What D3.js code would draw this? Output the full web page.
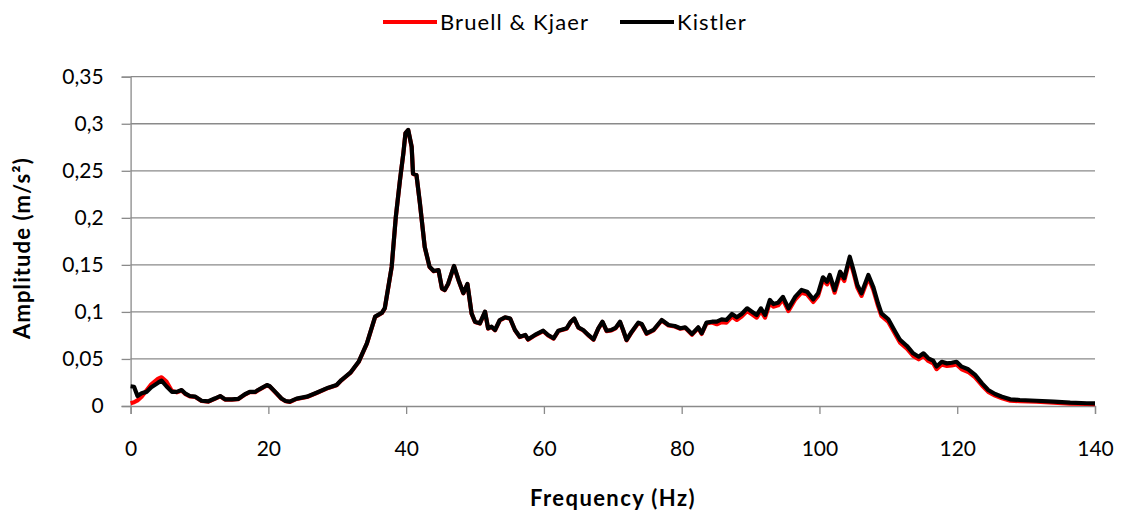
<!DOCTYPE html>
<html><head><meta charset="utf-8">
<script src="https://cdn.jsdelivr.net/npm/d3@7"></script>
<style>
html,body{margin:0;padding:0;background:#fff;}
svg{display:block;font-family:Lato,"Open Sans",sans-serif;}
</style></head>
<body><svg id="chart" width="1121" height="516"></svg>
<script>
const freq = [0,0.5,1.0,1.6,2.3,3.0,4.0,4.5,5.2,6.0,6.7,7.4,7.9,8.6,9.4,10.3,11.3,12.3,13.0,13.7,14.7,15.6,16.6,17.3,18.1,18.5,19.0,19.8,20.2,21.0,21.9,22.5,23.1,24.1,25.6,27.0,28.7,29.9,30.6,31.9,33.1,34.3,35.5,36.5,36.9,37.9,38.5,39.1,39.6,39.9,40.3,40.8,41.0,41.5,42.0,42.7,43.4,44.0,44.7,45.2,45.6,46.1,46.95,47.6,48.3,48.9,49.5,50.0,50.7,51.45,51.9,52.4,52.9,53.6,54.35,55.1,55.8,56.5,57.3,57.7,58.7,59.9,60.6,61.4,62.1,63.3,63.9,64.4,65.0,65.7,66.45,67.2,67.9,68.5,69.1,69.8,70.4,71.05,71.5,72.0,72.75,73.7,74.2,74.9,75.9,77.1,78.1,79.0,79.8,80.5,81.5,82.4,82.9,83.6,84.4,85.1,85.8,86.5,87.3,88.0,88.7,89.5,90.2,90.9,91.5,92.1,92.8,93.3,94.0,94.7,95.5,96.5,97.4,98.2,99.1,99.8,100.5,101.1,101.5,102.2,103.0,103.6,104.4,105.0,105.5,106.1,107.1,107.8,108.5,109.0,110.0,111.0,111.7,112.7,113.6,114.4,115.1,115.8,116.5,117.0,117.75,118.5,119.2,119.9,120.65,121.6,122.6,123.6,124.5,125.5,126.5,127.7,129.1,131.5,134.0,136.4,138.8,140];

const kistler = [0.021,0.0205,0.0106,0.0135,0.015,0.020,0.0248,0.027,0.021,0.015,0.015,0.017,0.0135,0.0106,0.0099,0.0056,0.005,0.0082,0.0106,0.0071,0.0071,0.0075,0.0125,0.015,0.015,0.017,0.019,0.0223,0.021,0.015,0.008,0.0053,0.0046,0.0078,0.0099,0.0141,0.0195,0.0223,0.0276,0.0354,0.047,0.0666,0.095,0.0992,0.104,0.148,0.201,0.240,0.269,0.29,0.2934,0.2756,0.247,0.2455,0.2155,0.169,0.148,0.1435,0.1445,0.125,0.1233,0.130,0.1488,0.134,0.12,0.1297,0.0985,0.0896,0.0879,0.1002,0.0826,0.0843,0.0808,0.0914,0.0943,0.093,0.0808,0.0737,0.0755,0.0709,0.0755,0.080,0.0755,0.072,0.080,0.0826,0.0896,0.093,0.0836,0.0808,0.0755,0.0709,0.0826,0.0896,0.080,0.0808,0.083,0.0896,0.0808,0.0702,0.079,0.0886,0.0872,0.0773,0.0808,0.0914,0.0861,0.085,0.0826,0.0836,0.0765,0.0836,0.0773,0.0886,0.0896,0.0896,0.092,0.0914,0.0978,0.0943,0.0978,0.1038,0.1002,0.0967,0.1038,0.0967,0.1127,0.1084,0.1098,0.116,0.1038,0.1162,0.1233,0.1215,0.1134,0.1198,0.1368,0.1321,0.1392,0.1233,0.1428,0.1357,0.1587,0.1428,0.1286,0.1198,0.1392,0.1268,0.1092,0.0985,0.0922,0.079,0.0702,0.0638,0.056,0.0524,0.056,0.0507,0.0482,0.042,0.047,0.0453,0.046,0.047,0.0418,0.039,0.033,0.0241,0.017,0.0128,0.0099,0.0071,0.0064,0.0056,0.0046,0.0035,0.0029,0.0028];

const bruell = [0.003,0.004,0.006,0.010,0.0165,0.023,0.029,0.0305,0.026,0.016,0.0145,0.0165,0.013,0.0103,0.0096,0.0053,0.0047,0.0079,0.0103,0.0068,0.0068,0.0072,0.0122,0.0147,0.0147,0.0167,0.0187,0.022,0.0207,0.0147,0.0077,0.005,0.0043,0.0075,0.0096,0.0138,0.0192,0.022,0.0273,0.0351,0.0467,0.0663,0.0947,0.0989,0.1037,0.1477,0.2007,0.2397,0.2687,0.2897,0.2931,0.2753,0.2467,0.2452,0.2152,0.1687,0.1477,0.1432,0.1442,0.1247,0.123,0.1297,0.1485,0.1337,0.1197,0.1294,0.0982,0.0893,0.0876,0.0999,0.0823,0.084,0.0805,0.0911,0.094,0.0927,0.0805,0.0733,0.0751,0.0705,0.0751,0.0796,0.0751,0.0716,0.0796,0.0822,0.0892,0.0926,0.0832,0.0804,0.0751,0.0705,0.0822,0.0892,0.0796,0.0803,0.0825,0.0891,0.0803,0.0697,0.0785,0.0881,0.0867,0.0768,0.0803,0.0909,0.0856,0.0845,0.0821,0.0831,0.0758,0.0829,0.0766,0.0878,0.0887,0.0869,0.0892,0.0886,0.095,0.0915,0.095,0.101,0.0974,0.0939,0.101,0.0939,0.1099,0.1056,0.107,0.1132,0.101,0.1134,0.1205,0.1187,0.1106,0.117,0.134,0.1293,0.1364,0.1205,0.14,0.1329,0.1559,0.14,0.1258,0.117,0.1364,0.124,0.1064,0.0957,0.0894,0.0762,0.0674,0.061,0.0532,0.0496,0.0532,0.0479,0.0454,0.0392,0.0442,0.0425,0.0432,0.0442,0.039,0.0362,0.0305,0.0218,0.015,0.011,0.0082,0.0056,0.0051,0.0045,0.0036,0.0026,0.0021,0.002];

const xTicks = [0,20,40,60,80,100,120,140];
const yTicks = [0,0.05,0.1,0.15,0.2,0.25,0.3,0.35];
const seriesNames = ["Bruell & Kjaer","Kistler"];
const seriesColors = ["#ff0000","#000000"];

const svg = d3.select("#chart");
const x = d3.scaleLinear().domain([0,140]).range([130.6,1095]);
const y = d3.scaleLinear().domain([0,0.35]).range([406,76.7]);
const gridColor = "#8a8a8a";
const fmt = v => String(+v.toFixed(2)).replace(".", ",");

// gridlines
svg.append("g").selectAll("line").data(yTicks.slice(1)).join("line")
  .attr("x1", x(0)).attr("x2", x(140))
  .attr("y1", d => y(d)).attr("y2", d => y(d))
  .attr("stroke", gridColor).attr("stroke-width", 1.3);

// y axis
const yAxis = svg.append("g").attr("transform", `translate(${x(0)},0)`)
  .call(d3.axisLeft(y).tickValues(yTicks).tickFormat(fmt).tickSize(9).tickPadding(18));
yAxis.select(".domain").attr("stroke", gridColor).attr("stroke-width", 1.3);
yAxis.selectAll(".tick line").attr("stroke", gridColor).attr("stroke-width", 1.3);
yAxis.selectAll("text").attr("font-size", 21).attr("fill", "#000").attr("font-family","Lato");

// x axis
const xAxis = svg.append("g").attr("transform", `translate(0,${y(0)})`)
  .call(d3.axisBottom(x).tickValues(xTicks).tickFormat(d => d).tickSize(8).tickPadding(27));
xAxis.select(".domain").attr("stroke", gridColor).attr("stroke-width", 1.3);
xAxis.selectAll(".tick line").attr("stroke", gridColor).attr("stroke-width", 1.3);
xAxis.selectAll("text").attr("font-size", 21).attr("fill", "#000").attr("font-family","Lato");

// lines
const line = vals => d3.line().x((d,i) => x(freq[i])).y(d => y(d))(vals);
svg.append("path").attr("d", line(bruell)).attr("fill","none")
  .attr("stroke", seriesColors[0]).attr("stroke-width", 4.2).attr("stroke-linejoin","round");
svg.append("path").attr("d", line(kistler)).attr("fill","none")
  .attr("stroke", seriesColors[1]).attr("stroke-width", 4.2).attr("stroke-linejoin","round");

// axis titles
svg.append("text").attr("x", 613).attr("y", 506).attr("text-anchor","middle")
  .attr("font-size", 22).attr("font-weight","bold").attr("letter-spacing", 1.4).text("Frequency (Hz)");
svg.append("text").attr("transform","translate(30,248) rotate(-90)").attr("text-anchor","middle")
  .attr("font-size", 22).attr("font-weight","bold").attr("letter-spacing", 1.1).text("Amplitude (m/s²)");

// legend
const legX = [383, 620];
seriesNames.forEach((n,i) => {
  const g = svg.append("g");
  g.append("line").attr("x1", legX[i]).attr("x2", legX[i]+54).attr("y1", 22).attr("y2", 22)
    .attr("stroke", seriesColors[i]).attr("stroke-width", 4.2);
  g.append("text").attr("x", legX[i]+57).attr("y", 30).attr("font-size", 22)
    .attr("letter-spacing", 1.1).text(n);
});
</script></body></html>
